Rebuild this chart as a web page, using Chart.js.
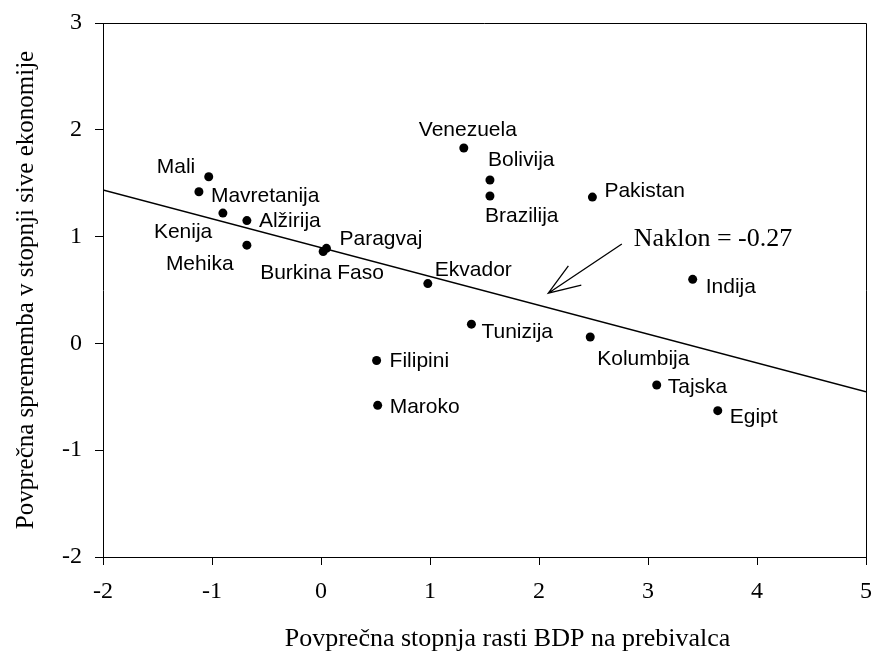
<!DOCTYPE html>
<html>
<head>
<meta charset="utf-8">
<script src="https://cdn.jsdelivr.net/npm/chart.js@4.4.1/dist/chart.umd.min.js"></script>
<style>
    body { margin: 0; background: #fff; }
</style>
</head>
<body>
<canvas id="grafica" width="872" height="652"></canvas>
<script>
// podatki
const drzave = ['Mali', 'Mavretanija', 'Kenija', 'Alžirija', 'Mehika', 'Burkina Faso', 'Paragvaj',
    'Venezuela', 'Bolivija', 'Brazilija', 'Pakistan', 'Ekvador', 'Indija', 'Kolumbija',
    'Tajska', 'Egipt', 'Tunizija', 'Filipini', 'Maroko'];
const rastBdp = [-1.03, -1.12, -0.90, -0.68, -0.68, 0.02, 0.05,
    1.31, 1.55, 1.55, 2.49, 0.98, 3.41, 2.47,
    3.08, 3.64, 1.38, 0.51, 0.52];
const sprememba = [1.56, 1.42, 1.22, 1.15, 0.92, 0.86, 0.89,
    1.83, 1.53, 1.38, 1.37, 0.56, 0.60, 0.06,
    -0.39, -0.63, 0.18, -0.16, -0.58];
const premicaX = [-2, 5];
const premicaY = [1.437, -0.453];
const xOznake = [-2, -1, 0, 1, 2, 3, 4, 5];
const yOznake = [-2, -1, 0, 1, 2, 3];
const naslovX = 'Povprečna stopnja rasti BDP na prebivalca';
const naslovY = 'Povprečna sprememba v stopnji sive ekonomije';
const naklonBesedilo = 'Naklon = -0.27';
const puscicaOd = [2.76, 0.93];
const puscicaDo = [2.085, 0.47];

// zamiki oznak v pikslih (levi rob besedila, osnovna linija)
const zamiki = [[-52, -4], [12, 10], [-69, 25], [12, 6], [-81, 25], [-63, 27], [13, -3],
    [-45, -12], [-2, -14], [-5, 26], [12, 0], [7, -8], [13, 14], [7, 28],
    [11, 8], [12, 12], [10, 14], [13, 7], [12, 8]];

const serif = "'Liberation Serif', 'Times New Roman', serif";
const sans = "'Liberation Sans', Arial, sans-serif";

const oznakePlugin = {
    id: 'oznake',
    afterDatasetsDraw(chart) {
        const { ctx, chartArea, scales: { x, y } } = chart;
        ctx.save();
        ctx.strokeStyle = '#000';
        ctx.lineWidth = 1;
        ctx.beginPath();
        ctx.moveTo(chartArea.left, Math.round(chartArea.top) + 0.5);
        ctx.lineTo(Math.round(chartArea.right) + 0.5, Math.round(chartArea.top) + 0.5);
        ctx.lineTo(Math.round(chartArea.right) + 0.5, chartArea.bottom);
        ctx.stroke();

        ctx.fillStyle = '#000';
        ctx.font = `21px ${sans}`;
        ctx.textAlign = 'left';
        ctx.textBaseline = 'alphabetic';
        chart.getDatasetMeta(0).data.forEach((tocka, i) => {
            ctx.fillText(drzave[i], tocka.x + zamiki[i][0], tocka.y + zamiki[i][1]);
        });

        // puscica
        const x1 = x.getPixelForValue(puscicaOd[0]);
        const y1 = y.getPixelForValue(puscicaOd[1]);
        const x2 = x.getPixelForValue(puscicaDo[0]);
        const y2 = y.getPixelForValue(puscicaDo[1]);
        const kot = Math.atan2(y1 - y2, x1 - x2);
        const dolzina = 34;
        const krilo = 20 * Math.PI / 180;
        ctx.lineWidth = 1.3;
        ctx.beginPath();
        ctx.moveTo(x1, y1);
        ctx.lineTo(x2, y2);
        ctx.moveTo(x2 + dolzina * Math.cos(kot - krilo), y2 + dolzina * Math.sin(kot - krilo));
        ctx.lineTo(x2, y2);
        ctx.lineTo(x2 + dolzina * Math.cos(kot + krilo), y2 + dolzina * Math.sin(kot + krilo));
        ctx.stroke();

        ctx.font = `26px ${serif}`;
        ctx.fillText(naklonBesedilo, x1 + 12, y1 + 2);

        // naslov osi x (v izvirniku malo desno od sredine)
        ctx.textAlign = 'center';
        ctx.fillText(naslovX, (chartArea.left + chartArea.right) / 2 + 23, 646);
        ctx.restore();
    }
};

const ctx = document.getElementById('grafica').getContext('2d');
const grafica = new Chart(ctx, {
    type: 'scatter',
    data: {
        datasets: [{
            data: rastBdp.map((v, i) => ({ x: v, y: sprememba[i] })),
            backgroundColor: '#000',
            borderWidth: 0,
            pointRadius: 4.5,
            pointHoverRadius: 4.5
        }, {
            type: 'line',
            data: premicaX.map((v, i) => ({ x: v, y: premicaY[i] })),
            borderColor: '#000',
            borderWidth: 1.4,
            pointRadius: 0,
            fill: false
        }]
    },
    options: {
        responsive: false,
        animation: false,
        events: [],
        layout: {
            padding: { left: 0, right: 6, top: 23, bottom: 0 }
        },
        scales: {
            x: {
                type: 'linear',
                min: -2,
                max: 5,
                afterBuildTicks: s => { s.ticks = xOznake.map(v => ({ value: v })); },
                afterFit: s => {
                    s.height = 95;
                    s.paddingLeft = 0;
                    s.paddingRight = 0;
                },
                grid: { drawOnChartArea: false, tickLength: 8, color: '#000', tickWidth: 1 },
                border: { color: '#000', width: 1 },
                ticks: { color: '#000', font: { family: serif, size: 24 }, padding: 12 },
                title: { display: false }
            },
            y: {
                type: 'linear',
                min: -2,
                max: 3,
                afterBuildTicks: s => { s.ticks = yOznake.map(v => ({ value: v })); },
                afterFit: s => {
                    s.width = 103;
                    s.paddingTop = 0;
                    s.paddingBottom = 0;
                },
                grid: { drawOnChartArea: false, tickLength: 8, color: '#000', tickWidth: 1 },
                border: { color: '#000', width: 1 },
                ticks: { color: '#000', font: { family: serif, size: 24 }, padding: 13 },
                title: {
                    display: true,
                    text: naslovY,
                    color: '#000',
                    font: { family: serif, size: 25 },
                    padding: { top: 11, bottom: 0 }
                }
            }
        },
        plugins: {
            legend: { display: false },
            tooltip: { enabled: false }
        }
    },
    plugins: [oznakePlugin]
});
</script>
</body>
</html>
